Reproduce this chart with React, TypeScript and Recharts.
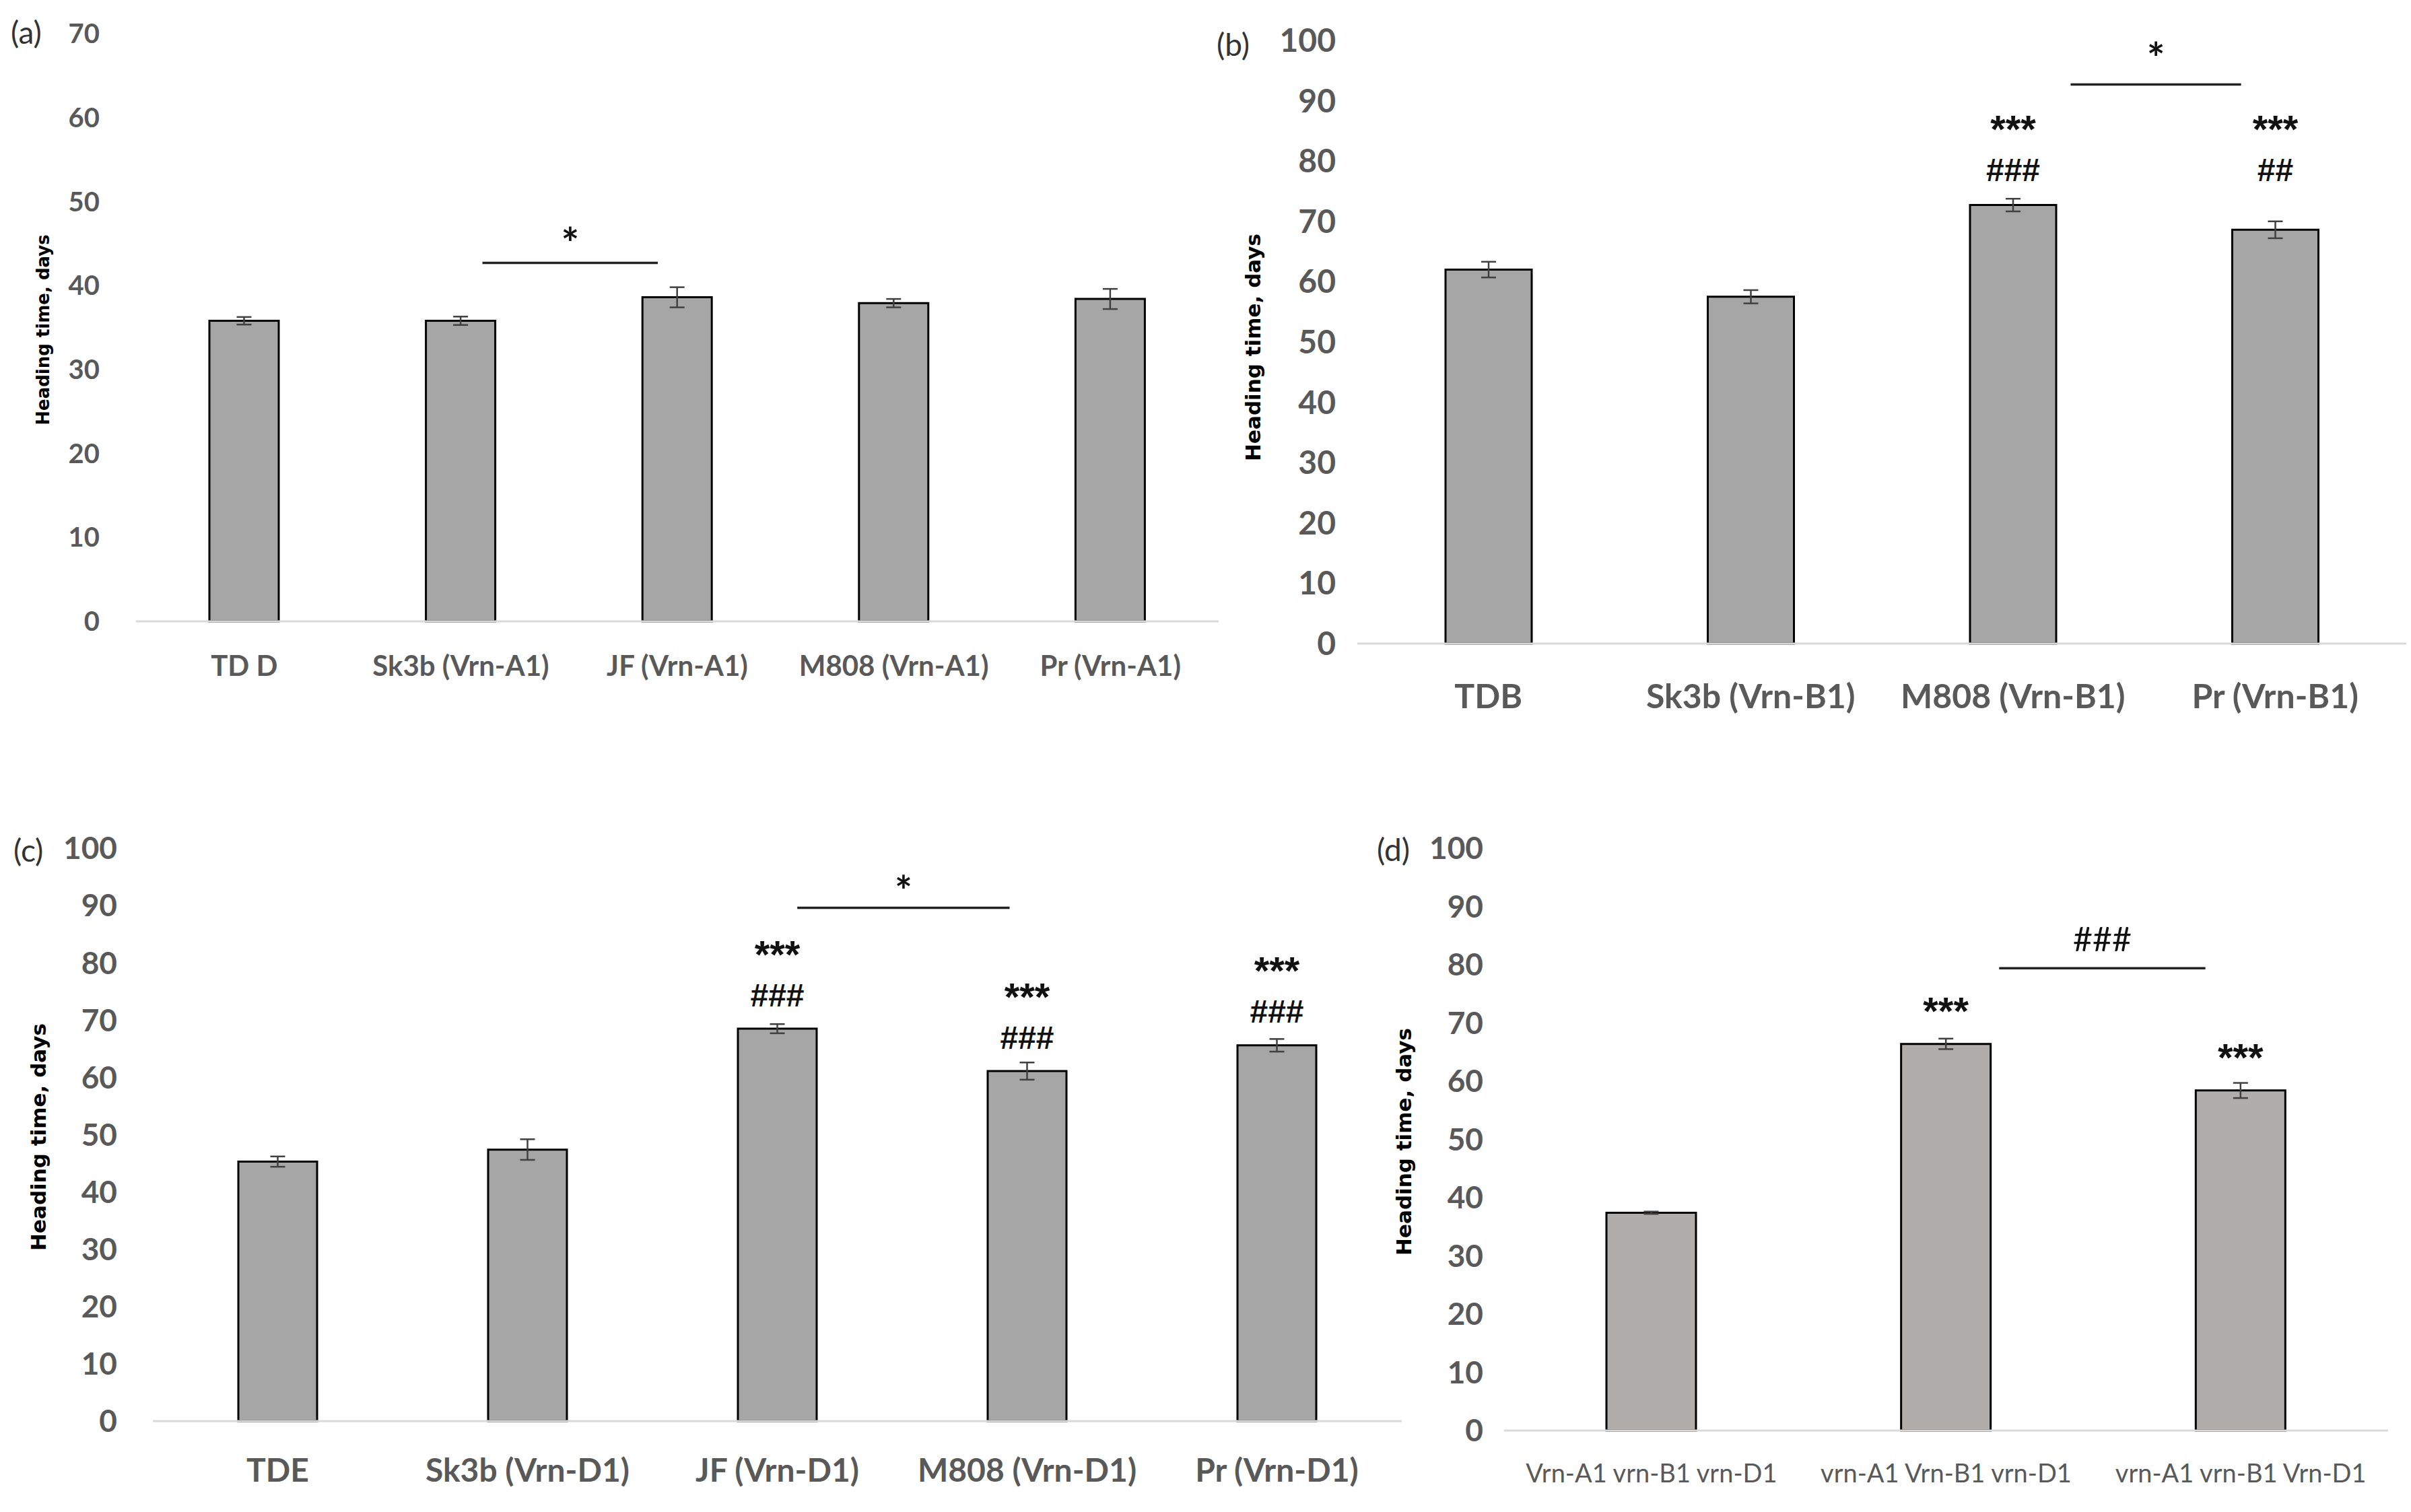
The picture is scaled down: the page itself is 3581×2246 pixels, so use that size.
import React from "react";
import {
  BarChart,
  Bar,
  XAxis,
  YAxis,
  ErrorBar,
  LabelList,
  ReferenceLine,
} from "recharts";

// ---- data ----
const catsA = ["TD D", "Sk3b (Vrn-A1)", "JF (Vrn-A1)", "M808 (Vrn-A1)", "Pr (Vrn-A1)"];
const meanA = [35.8, 35.8, 38.6, 37.9, 38.4];
const errA = [0.45, 0.5, 1.2, 0.5, 1.2];
const marksA: string[][] = [[], [], [], [], []];
const bracketA = { from: 1.1, to: 1.91, y: 42.7, text: "*" };
const ticksA = [0, 10, 20, 30, 40, 50, 60, 70];

const catsB = ["TDB", "Sk3b (Vrn-B1)", "M808 (Vrn-B1)", "Pr (Vrn-B1)"];
const meanB = [62.0, 57.5, 72.7, 68.6];
const errB = [1.3, 1.1, 1.05, 1.4];
const marksB: string[][] = [[], [], ["###", "***"], ["##", "***"]];
const bracketB = { from: 2.22, to: 2.87, y: 92.7, text: "*" };

const catsC = ["TDE", "Sk3b (Vrn-D1)", "JF (Vrn-D1)", "M808 (Vrn-D1)", "Pr (Vrn-D1)"];
const meanC = [45.3, 47.4, 68.5, 61.1, 65.6];
const errC = [0.9, 1.8, 0.8, 1.5, 1.1];
const marksC: string[][] = [[], [], ["###", "***"], ["###", "***"], ["###", "***"]];
const bracketC = { from: 2.08, to: 2.93, y: 89.6, text: "*" };

const catsD = ["Vrn-A1 vrn-B1 vrn-D1", "vrn-A1 Vrn-B1 vrn-D1", "vrn-A1 vrn-B1 Vrn-D1"];
const meanD = [37.4, 66.4, 58.4];
const errD = [0.2, 0.9, 1.3];
const marksD: string[][] = [[], ["***"], ["***"]];
const bracketD = { from: 1.18, to: 1.88, y: 79.4, text: "###" };

const ticks100 = [0, 10, 20, 30, 40, 50, 60, 70, 80, 90, 100];

const LABEL_FONT = "Lato, 'Open Sans', sans-serif";
const MARK_FONT = "'Liberation Sans', Arial, sans-serif";
const TITLE_FONT = "'DejaVu Sans', Verdana, sans-serif";

type PanelProps = {
  tag: string;
  cats: string[];
  means: number[];
  errs: number[];
  marks: string[][];
  alignMarks?: boolean;
  bracket: { from: number; to: number; y: number; text: string };
  yTicks: number[];
  left: number;
  top: number;
  width: number;
  height: number;
  margin: { top: number; right: number; bottom: number; left: number };
  yAxisWidth: number;
  yTickMargin: number;
  yTickSize: number;
  xTickMargin: number;
  xTickSize: number;
  barSize: number;
  fill: string;
  markFirst: number;
  markStep: number;
  bracketGap: number;
  bracketSize: number;
  tagPos: { x: number; y: number };
  titlePos: { x: number; y: number; size: number };
  xFontWeight?: number;
};

const isStar = (s: string) => s.includes("*");

function Panel(p: PanelProps) {
  const data = p.cats.map((c, i) => ({
    x: i,
    name: c,
    mean: p.means[i],
    err: p.errs[i],
  }));

  // highest annotated bar: used when the marks of a panel sit on one row
  const annotated = p.means.filter((_, i) => p.marks[i].length > 0);
  const anchor = annotated.length ? Math.max(...annotated) : 0;

  const renderMarks = (props: any) => {
    const { x, y, width, height, index, value } = props;
    const list: string[] = p.marks[index] || [];
    if (!list.length) return null;
    let top = y;
    if (p.alignMarks && value > 0) top = y - ((anchor - value) * height) / value;
    const cx = x + width / 2;
    return (
      <g>
        {list.map((m, k) => (
          <text
            key={k}
            x={cx}
            y={top - p.markFirst - k * p.markStep}
            textAnchor="middle"
            dominantBaseline="central"
            fontFamily={MARK_FONT}
            fontSize={isStar(m) ? 58 : 48}
            fontWeight={700}
            fill="#111"
          >
            {m}
          </text>
        ))}
      </g>
    );
  };

  const star = isStar(p.bracket.text);

  return (
    <div style={{ position: "absolute", left: p.left, top: p.top, width: p.width, height: p.height }}>
      <BarChart width={p.width} height={p.height} data={data} margin={p.margin}>
        <XAxis
          dataKey="x"
          type="number"
          domain={[-0.5, p.cats.length - 0.5]}
          ticks={p.cats.map((_, i) => i)}
          tickFormatter={(v: number) => p.cats[v]}
          interval={0}
          height={60}
          axisLine={{ stroke: "#d9d9d9", strokeWidth: 3 }}
          tickLine={false}
          tickMargin={p.xTickMargin}
          tick={{ fill: "#595959", fontSize: p.xTickSize, fontWeight: p.xFontWeight ?? 700, fontFamily: LABEL_FONT }}
        />
        <YAxis
          type="number"
          domain={[0, p.yTicks[p.yTicks.length - 1]]}
          ticks={p.yTicks}
          interval={0}
          width={p.yAxisWidth}
          axisLine={false}
          tickLine={false}
          tickMargin={p.yTickMargin}
          tick={{ fill: "#595959", fontSize: p.yTickSize, fontWeight: 700, fontFamily: LABEL_FONT }}
        />
        <Bar
          dataKey="mean"
          fill={p.fill}
          stroke="#000"
          strokeWidth={3}
          barSize={p.barSize}
          isAnimationActive={false}
        >
          <ErrorBar dataKey="err" width={11} stroke="#404040" strokeWidth={2.5} direction="y" />
          <LabelList dataKey="mean" content={renderMarks} />
        </Bar>
        <ReferenceLine
          segment={[
            { x: p.bracket.from, y: p.bracket.y },
            { x: p.bracket.to, y: p.bracket.y },
          ]}
          stroke="#222"
          strokeWidth={3.5}
          label={{
            value: p.bracket.text,
            position: "top",
            offset: p.bracketGap,
            fill: "#111",
            fontSize: p.bracketSize,
            fontWeight: star ? 700 : 400,
            fontFamily: LABEL_FONT,
          }}
        />
      </BarChart>
      <div
        style={{
          position: "absolute",
          left: p.tagPos.x,
          top: p.tagPos.y,
          transform: "translateY(-50%)",
          fontFamily: LABEL_FONT,
          fontSize: 46,
          color: "#333",
          lineHeight: 1,
          whiteSpace: "nowrap",
        }}
      >
        {p.tag}
      </div>
      <div
        style={{
          position: "absolute",
          left: p.titlePos.x,
          top: p.titlePos.y,
          transform: "translate(-50%, -50%) rotate(-90deg)",
          fontFamily: TITLE_FONT,
          fontWeight: 700,
          fontSize: p.titlePos.size,
          color: "#000",
          lineHeight: 1,
          whiteSpace: "nowrap",
        }}
      >
        Heading time, days
      </div>
    </div>
  );
}

export default function App() {
  return (
    <div
      style={{
        position: "absolute",
        left: 0,
        top: 0,
        width: 3581,
        height: 2246,
        background: "#fff",
        overflow: "hidden",
      }}
    >
      <Panel
        tag="(a)"
        cats={catsA}
        means={meanA}
        errs={errA}
        marks={marksA}
        bracket={bracketA}
        yTicks={ticksA}
        left={0}
        top={0}
        width={1830}
        height={1060}
        margin={{ top: 50, right: 20, bottom: 77, left: 0 }}
        yAxisWidth={202}
        yTickMargin={48}
        yTickSize={40}
        xTickMargin={45}
        xTickSize={42}
        barSize={103}
        fill="#a6a6a6"
        markFirst={50}
        markStep={60}
        bracketGap={5}
        bracketSize={63}
        tagPos={{ x: 16, y: 48 }}
        titlePos={{ x: 64, y: 490, size: 26 }}
      />
      <Panel
        tag="(b)"
        cats={catsB}
        means={meanB}
        errs={errB}
        marks={marksB}
        alignMarks
        bracket={bracketB}
        yTicks={ticks100}
        left={1830}
        top={0}
        width={1751}
        height={1100}
        margin={{ top: 60, right: 7, bottom: 84, left: 0 }}
        yAxisWidth={186}
        yTickMargin={26}
        yTickSize={48}
        xTickMargin={54}
        xTickSize={50}
        barSize={128}
        fill="#a6a6a6"
        markFirst={52}
        markStep={61}
        bracketGap={15}
        bracketSize={63}
        tagPos={{ x: 1807 - 1830, y: 66 }}
        titlePos={{ x: 1861 - 1830, y: 516, size: 31 }}
      />
      <Panel
        tag="(c)"
        cats={catsC}
        means={meanC}
        errs={errC}
        marks={marksC}
        bracket={bracketC}
        yTicks={ticks100}
        left={0}
        top={1146}
        width={2100}
        height={1100}
        margin={{ top: 114, right: 18, bottom: 75, left: 0 }}
        yAxisWidth={227}
        yTickMargin={47}
        yTickSize={46}
        xTickMargin={50}
        xTickSize={48}
        barSize={117}
        fill="#a6a6a6"
        markFirst={50}
        markStep={61}
        bracketGap={3}
        bracketSize={61}
        tagPos={{ x: 20, y: 1263 - 1146 }}
        titlePos={{ x: 57, y: 1689 - 1146, size: 31 }}
      />
      <Panel
        tag="(d)"
        cats={catsD}
        means={meanD}
        errs={errD}
        marks={marksD}
        bracket={bracketD}
        yTicks={ticks100}
        left={2100}
        top={1146}
        width={1481}
        height={1100}
        margin={{ top: 114, right: 34, bottom: 61, left: 0 }}
        yAxisWidth={134}
        yTickMargin={25}
        yTickSize={46}
        xTickMargin={44}
        xTickSize={38}
        xFontWeight={400}
        barSize={133}
        fill="#b0adaa"
        markFirst={49}
        markStep={61}
        bracketGap={25}
        bracketSize={50}
        tagPos={{ x: 2045 - 2100, y: 1262 - 1146 }}
        titlePos={{ x: 2085 - 2100, y: 1696 - 1146, size: 31 }}
      />
    </div>
  );
}
